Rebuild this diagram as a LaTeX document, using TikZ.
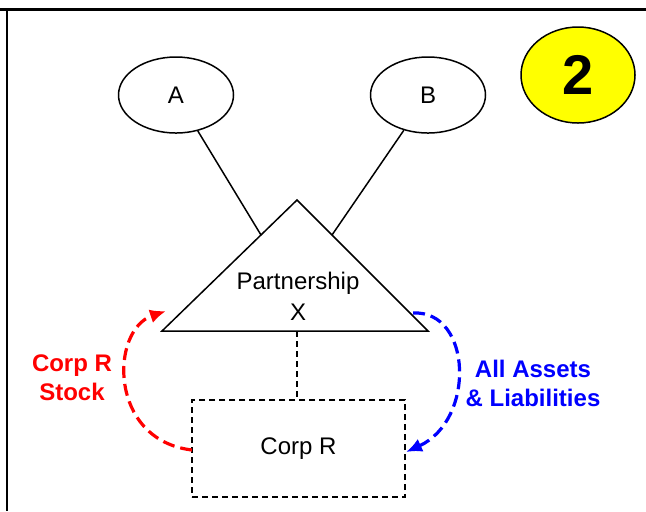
\documentclass[tikz,border=0pt]{standalone}
\usepackage{fontspec}
\setmainfont{Liberation Sans}
\usetikzlibrary{shapes.geometric,arrows.meta}
\definecolor{badgeyellow}{RGB}{255,255,0}
\tikzstyle{party}=[ellipse, draw, line width=0.75pt, minimum width=57.5pt, minimum height=38pt, inner sep=0pt, font=\fontsize{12}{14}\selectfont]
\tikzstyle{corp}=[draw, dashed, dash pattern=on 3pt off 2pt, line width=0.75pt, minimum width=106.5pt, minimum height=48.5pt, font=\fontsize{12}{14}\selectfont]
\tikzstyle{badge}=[ellipse, draw, fill=badgeyellow, line width=0.75pt, minimum width=57pt, minimum height=48pt, inner sep=0pt, font=\bfseries\fontsize{28}{30}\selectfont]
\tikzstyle{transfer}=[line width=1.6pt, dash pattern=on 6pt off 3pt, -{Latex[length=8pt,width=7pt]}]
\tikzstyle{tag}=[align=center, font=\bfseries\fontsize{12}{14.5}\selectfont]
\newcommand{\party}{\node[party]}

\begin{document}
\begin{tikzpicture}[x=0.5pt,y=-0.5pt]
	\useasboundingbox (0,0) rectangle (646,511);
	%% frame
	\draw[line width=1.5pt] (0,9) -- (646,9);
	\draw[line width=1pt] (7,9) -- (7,511);
	%% the partners
	\party (A) at (176,95) {A};
	\party (B) at (428,95) {B};
	\node[badge] (two) at (578,75) {2};
	%% the partnership
	\coordinate (top) at (297,200);
	\coordinate (left) at (162,331);
	\coordinate (right) at (428,331);
	\coordinate (pa) at (261,235);
	\coordinate (pb) at (332,235);
	\coordinate (base) at (297,331);
	\draw[line width=0.75pt] (top) -- (left) -- (right) -- cycle;
	\node[align=center, font=\fontsize{12}{15.5}\selectfont] (X) at (298,296) {Partnership\\X};
	%% the corporation
	\node[corp] (R) at (298.5,448.5) {Corp R};
	%% for the edges
	\path[line width=0.75pt]
		(A) edge (pa)
		(B) edge (pb)
		;
	\draw[corp, minimum width=0pt] (base) -- (R.north -| base);
	%% the transfers
	\coordinate (rs) at (192,450);
	\coordinate (re) at (166,311);
	\coordinate (bs) at (413,313);
	\coordinate (be) at (406,452);
	\draw[transfer, red] (rs) .. controls (108,440) and (110,330) .. (re);
	\draw[transfer, blue] (bs) .. controls (472,310) and (476,420) .. (be);
	\node[tag, red] (stock) at (72,378) {Corp R\\Stock};
	\node[tag, blue] (assets) at (533,383) {All Assets\\\& Liabilities};
\end{tikzpicture}
\end{document}
